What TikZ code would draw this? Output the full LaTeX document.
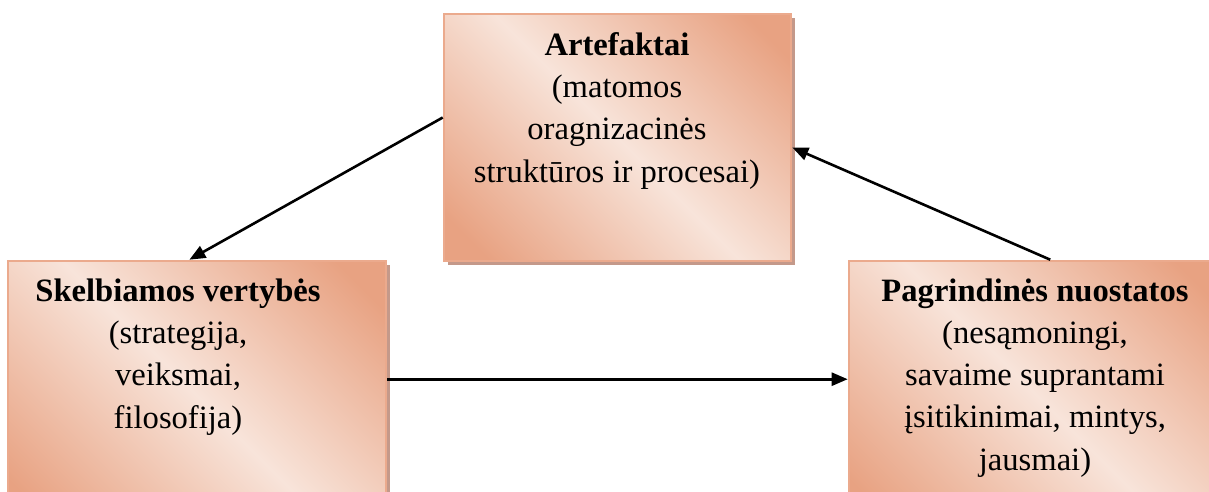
\documentclass[tikz,border=0pt]{standalone}
\usepackage{fontspec}
\setmainfont{Liberation Serif}
\usetikzlibrary{arrows.meta,shadows,calc}

\definecolor{peachdark}{HTML}{E8A282}
\definecolor{peachlight}{HTML}{F8E4DA}
\definecolor{peachline}{HTML}{EBAA8D}
\definecolor{peachshadow}{HTML}{C4998A}
\pgfdeclarehorizontalshading{peach}{100bp}{color(0bp)=(peachdark); color(20bp)=(peachdark); color(50bp)=(peachlight); color(80bp)=(peachdark); color(100bp)=(peachdark)}

\tikzset{
  box/.style={draw=peachline, line width=1.3pt, shading=peach, shading angle=45,
    drop shadow={shadow xshift=2pt, shadow yshift=-2pt, fill=peachshadow, opacity=1},
    inner sep=0pt},
  boxtext/.style={anchor=base, align=center, inner sep=0pt,
    font=\fontsize{16.3}{21.1}\selectfont},
  arr/.style={-{Triangle[length=8pt,width=6.5pt]}, line width=1.3pt}
}

\begin{document}
\begin{tikzpicture}[x=0.5pt, y=-0.5pt]
  \useasboundingbox (0,0) rectangle (1209,492);
  \clip (0,0) rectangle (1209,492);
  % boxes
  \node[box, minimum width=173.5pt, minimum height=123.5pt] (art) at (617.5,137.5) {};
  \node[box, minimum width=189pt, minimum height=134.5pt] (skel) at (197,395.5) {};
  \node[box, minimum width=188pt, minimum height=134.5pt] (pagr) at (1037,395.5) {};
  % texts (base = last line)
  \node[boxtext] (artT) at (617,182) {\textbf{Artefaktai}\\(matomos\\oragnizacinės\\struktūros ir procesai)};
  \node[boxtext] (skelT) at (178,428) {\textbf{Skelbiamos vertybės}\\(strategija,\\veiksmai,\\filosofija)};
  \node[boxtext] (pagrT) at (1035,470) {\textbf{Pagrindinės nuostatos}\\(nesąmoningi,\\savaime suprantami\\įsitikinimai, mintys,\\jausmai)};
  % arrows
  \draw[arr] ($(art.north west)!0.42!(art.south west)$) -- ($(skel.north west)!0.48!(skel.north east)$);
  \draw[arr] ($(pagr.north west)!0.535!(pagr.north east)$) -- ($(art.north east)!0.54!(art.south east)$);
  \draw[arr] ($(skel.north east)!0.44!(skel.south east)$) -- ($(pagr.north west)!0.44!(pagr.south west)$);
\end{tikzpicture}
\end{document}
